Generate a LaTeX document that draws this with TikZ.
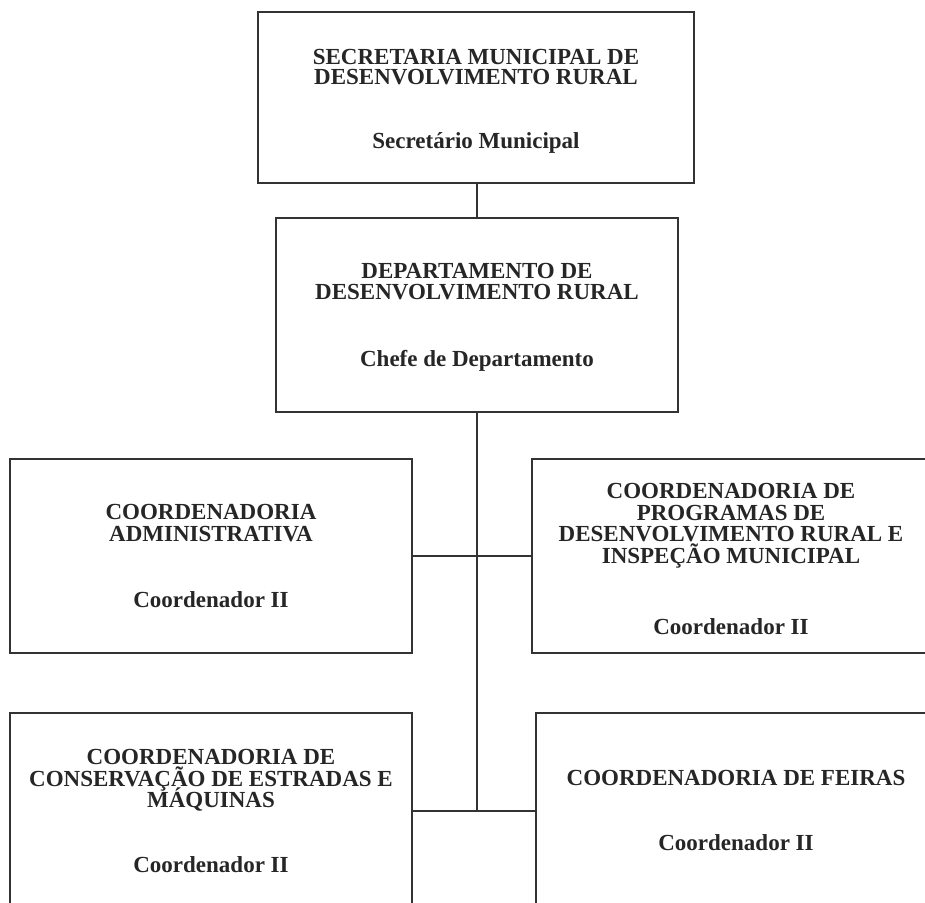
\documentclass[tikz,border=0pt]{standalone}
\usepackage{fontspec}
\setmainfont{Liberation Serif}
\newcommand\orgfont{\bfseries\fontsize{23}{21.5}\selectfont\lineskiplimit=-100pt\relax}
\newcommand\orgfonttight{\bfseries\fontsize{23}{19.8}\selectfont\lineskiplimit=-100pt\relax}
\tikzset{
  orgbox/.style={draw=black!80, line width=1.9pt, rectangle, inner sep=0pt},
  orgtext/.style={inner sep=0pt, align=center, font=\orgfont, text=black!85},
  link/.style={draw=black!80, line width=1.9pt}
}
\begin{document}
\begin{tikzpicture}[x=1pt,y=-1pt]
\useasboundingbox (0,0) rectangle (925,902);
\clip (0,0) rectangle (925,902);
\fill[white] (0,0) rectangle (925,902);

\node[orgbox, minimum width=436pt, minimum height=171pt] (b1) at (476,97.5) {};
\node[orgtext, font=\orgfonttight] (t1) at ([yshift=-4pt]b1.center)
  {SECRETARIA MUNICIPAL DE\\DESENVOLVIMENTO RURAL\\[44.2pt]Secretário Municipal};

\node[orgbox, minimum width=402pt, minimum height=194pt] (b2) at (477,315) {};
\node[orgtext] (t2) at ([yshift=-2.5pt]b2.center)
  {DEPARTAMENTO DE\\DESENVOLVIMENTO RURAL\\[45.5pt]Chefe de Departamento};

\node[orgbox, minimum width=402pt, minimum height=194pt] (b3) at (211,556) {};
\node[orgtext] (t3) at (b3.center)
  {COORDENADORIA\\ADMINISTRATIVA\\[44.5pt]Coordenador II};

\node[orgbox, minimum width=398pt, minimum height=194pt] (b4) at (731,556) {};
\node[orgtext] (t4) at ([yshift=-3pt]b4.center)
  {COORDENADORIA DE\\PROGRAMAS DE\\DESENVOLVIMENTO RURAL E\\INSPEÇÃO MUNICIPAL\\[50pt]Coordenador II};

\node[orgbox, minimum width=402pt, minimum height=196pt] (b5) at (211,811) {};
\node[orgtext] (t5) at (b5.center)
  {COORDENADORIA DE\\CONSERVAÇÃO DE ESTRADAS E\\MÁQUINAS\\[43.5pt]Coordenador II};

\node[orgbox, minimum width=400pt, minimum height=196pt] (b6) at (736,811) {};
\node[orgtext] (t6) at ([yshift=1pt]b6.center)
  {COORDENADORIA DE FEIRAS\\[43.5pt]Coordenador II};

\coordinate (j1) at (b2.north |- b1.south);
\coordinate (j2) at (b2.south |- b5.east);
\draw[link] (j1) -- (b2.north);
\draw[link] (b2.south) -- (j2);
\draw[link] (b3.east) -- (b4.west);
\draw[link] (b5.east) -- (b6.west);
\end{tikzpicture}
\end{document}
